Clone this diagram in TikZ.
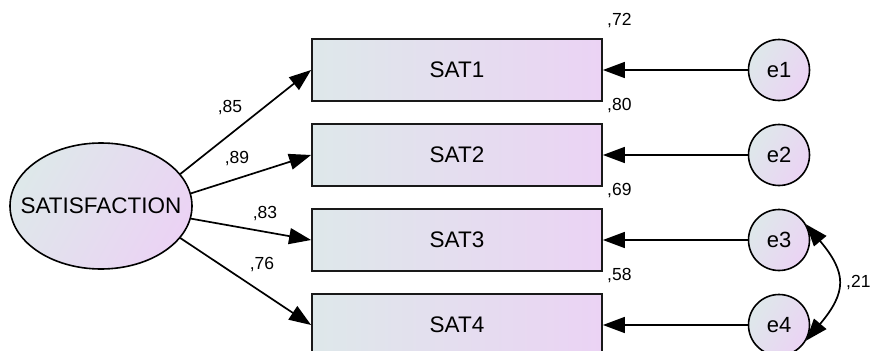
\documentclass[tikz,border=0pt]{standalone}
\usepackage{fontspec}
\setmainfont{Liberation Sans}
\usetikzlibrary{arrows.meta,shapes}
\definecolor{shadeL}{RGB}{222,232,234}
\definecolor{shadeR}{RGB}{235,211,244}
\tikzstyle{indicator}=[draw=black!90,line width=1.8pt,minimum width=290pt,minimum height=62pt,left color=shadeL,right color=shadeR,font=\fontsize{22.5}{26}\selectfont]
\tikzstyle{latent}=[ellipse,draw,line width=1.6pt,minimum width=182pt,minimum height=126pt,inner sep=0pt,inner xsep=-18pt,left color=shadeL,right color=shadeR,shading angle=60,font=\fontsize{22.5}{26}\selectfont]
\tikzstyle{errvar}=[circle,draw,line width=1.6pt,minimum size=61pt,inner sep=0pt,left color=shadeL,right color=shadeR,shading angle=60,font=\fontsize{22}{26}\selectfont]
\tikzstyle{regpath}=[-{Triangle[length=22pt,width=16pt]},line width=1.7pt]
\tikzstyle{covpath}=[{Triangle[length=22pt,width=16pt]}-{Triangle[length=22pt,width=16pt]},line width=1.7pt]
\tikzstyle{est}=[font=\fontsize{17.5}{20}\selectfont,inner sep=0pt]
\begin{document}
\begin{tikzpicture}[x=1pt,y=1pt]
        % the frame
        \clip (0,0) rectangle (871,-351);
        \fill[white] (0,0) rectangle (871,-351);

        % the factor
        \node[latent] (sat) at (101,-206) {SATISFACTION};

        %% indicators and their errors
        \foreach \i/\y/\a/\l/\r in {1/70/22/85/72,2/155/8/89/80,3/240/-8/83/69,4/325/-22/76/58}
        {
          \node[indicator] (sat\i) at (457,-\y) {SAT\i};
          \node[errvar] (e\i) at (779,-\y) {e\i};
          \draw[regpath] (e\i) -- (sat\i);
          \draw[regpath] (sat.\a) -- (sat\i.west);
          \node[est,anchor=west] (r\i) at (607,-\y+49) {,\r};
        }

        % loadings
        \node[est] (l1) at (230,-108) {,85};
        \node[est] (l2) at (237,-159) {,89};
        \node[est] (l3) at (265,-214) {,83};
        \node[est] (l4) at (262,-265) {,76};

        % covariance
        \draw[covpath] (e3.30) to[out=-50,in=50,looseness=1.4] (e4.-30);
        \node[est,anchor=west] (c34) at (846,-283) {,21};
\end{tikzpicture}
\end{document}
